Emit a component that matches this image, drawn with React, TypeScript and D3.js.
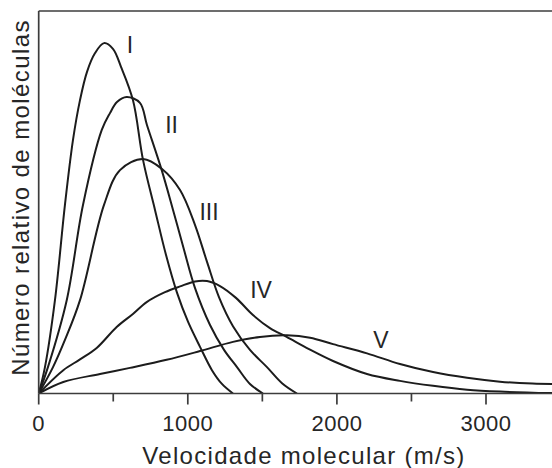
import { scaleLinear, line as d3_line, curveCatmullRom } from "d3";

// speed (m/s), relative number of molecules
const curveI: [number, number][] = [
  [0, 0], [42, 6.9], [109, 24.4], [176, 49.3], [230, 66.3], [277, 76.7], [324, 84.1],
  [378, 89.0], [438, 91.6], [498, 90.1], [552, 85.4], [632, 76.7], [700, 61.0], [780, 48.0],
  [854, 36.2], [928, 26.3], [1002, 18.7], [1082, 12.2], [1162, 6.1], [1229, 2.5], [1303, 0],
];
const curveII: [number, number][] = [
  [0, 0], [62, 6.9], [188, 24.4], [297, 49.3], [423, 68.9], [478, 73.3], [525, 76.2],
  [590, 77.5], [679, 76.0], [726, 70.2], [825, 58.4], [901, 48.0], [975, 37.5],
  [1048, 27.6], [1149, 17.9], [1243, 11.4], [1330, 6.9], [1417, 2.5], [1504, 0],
];
const curveIII: [number, number][] = [
  [0, 0], [96, 6.9], [176, 14.0], [277, 24.4], [438, 49.3], [545, 58.4], [700, 61.3],
  [827, 58.7], [948, 53.2], [1048, 44.1], [1129, 34.4], [1209, 25.2], [1303, 17.6],
  [1417, 11.4], [1531, 6.9], [1632, 2.7], [1732, 0],
];
const curveIV: [number, number][] = [
  [0, 0], [165, 6.1], [277, 8.9], [389, 11.9], [523, 17.4], [632, 20.8], [724, 23.9],
  [847, 26.5], [948, 28.0], [1048, 29.3], [1129, 29.4], [1216, 28.1], [1323, 25.0],
  [1437, 20.5], [1551, 17.1], [1663, 14.8], [1813, 11.6], [1974, 8.5], [2202, 5.1],
  [2423, 3.3], [2645, 2.0], [2873, 1.0], [3094, 0.5], [3443, 0.1],
];
const curveV: [number, number][] = [
  [0, 0], [165, 3.0], [411, 5.1], [612, 6.7], [858, 8.8], [1082, 11.1], [1303, 13.5],
  [1484, 14.8], [1665, 15.2], [1820, 14.6], [1974, 12.9], [2202, 10.5], [2423, 7.7],
  [2645, 5.6], [2873, 4.1], [3094, 3.1], [3312, 2.6], [3443, 2.5],
];
const curves = [curveI, curveII, curveIII, curveIV, curveV];
const curveNames = ["I", "II", "III", "IV", "V"];
const labelSpeed = [612, 891, 1142, 1491, 2296];
const labelLevel = [89.0, 68.1, 45.4, 25.0, 11.9];

const majorTicks = [0, 1000, 2000, 3000];
const minorTicks = [500, 1500, 2500];

const W = 552;
const H = 468;
const font = "'Liberation Sans', Arial, Helvetica, sans-serif";

export default function App() {
  const x = scaleLinear().domain([0, 3000]).range([38.7, 486]);
  const y = scaleLinear().domain([0, 100]).range([393.5, 11]);

  const line = d3_line<[number, number]>()
    .x((d) => x(d[0]))
    .y((d) => y(d[1]))
    .curve(curveCatmullRom.alpha(0.5));

  const left = x(0);
  const base = y(0);
  const top = y(100);

  return (
    <svg
      width={W}
      height={H}
      style={{ position: "absolute", left: 0, top: 0, background: "#fff" }}
      fontFamily={font}
    >
      <defs>
        <clipPath id="plot">
          <rect x={left} y={top} width={W - left} height={base - top} />
        </clipPath>
      </defs>

      {/* curves */}
      <g clipPath="url(#plot)">
        {curves.map((c, i) => (
          <path key={i} d={line(c) ?? ""} fill="none" stroke="#1c1c1c" strokeWidth={2} />
        ))}
      </g>

      {/* frame */}
      <g stroke="#3c3c3c" strokeWidth={1.7} fill="none">
        <line x1={left} x2={W} y1={top} y2={top} />
        <line x1={left} x2={left} y1={top} y2={base} />
        <line x1={left} x2={W} y1={base} y2={base} />
        {majorTicks.map((t) => (
          <line key={t} x1={x(t)} x2={x(t)} y1={base} y2={base + 11} />
        ))}
        {minorTicks.map((t) => (
          <line key={t} x1={x(t)} x2={x(t)} y1={base} y2={base + 8} />
        ))}
      </g>

      {/* tick labels */}
      {majorTicks.map((t) => (
        <text
          key={t}
          x={x(t)}
          y={431}
          textAnchor="middle"
          fontSize={22}
          letterSpacing={0.5}
          fill="#262626"
        >
          {t}
        </text>
      ))}

      {/* curve labels */}
      {curveNames.map((n, i) => (
        <text
          key={n}
          x={x(labelSpeed[i])}
          y={y(labelLevel[i])}
          textAnchor="middle"
          fontSize={23}
          fill="#262626"
        >
          {n}
        </text>
      ))}

      {/* axis titles */}
      <text
        x={(143 + 465) / 2}
        y={464}
        textAnchor="middle"
        fontSize={24}
        letterSpacing={1.3}
        fill="#262626"
      >
        Velocidade molecular (m/s)
      </text>
      <text
        transform={`translate(29,${(20 + 375) / 2}) rotate(-90)`}
        textAnchor="middle"
        fontSize={24}
        letterSpacing={1.4}
        fill="#262626"
      >
        Número relativo de moléculas
      </text>
    </svg>
  );
}
